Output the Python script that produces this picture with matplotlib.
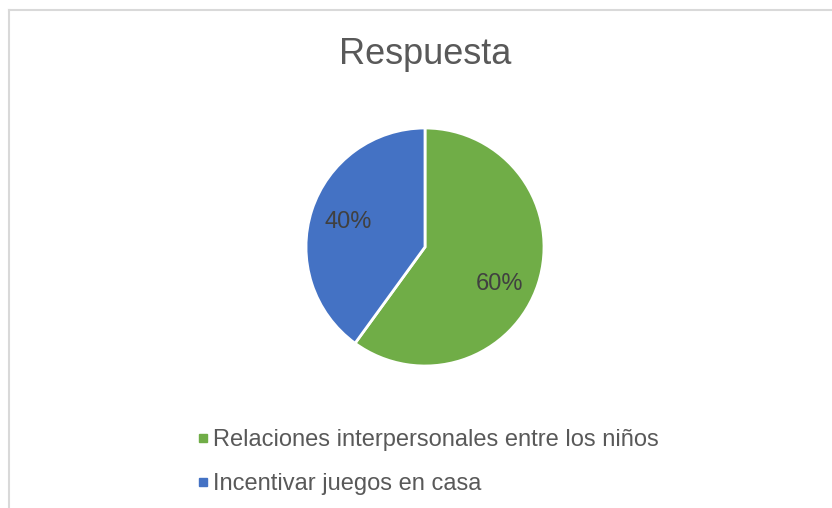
import matplotlib.pyplot as plt
from matplotlib.lines import Line2D

# Data
categories = ['Relaciones interpersonales entre los niños', 'Incentivar juegos en casa']
values = [60, 40]
colors = ['#70AD47', '#4472C4']
title = 'Respuesta'

plt.rcParams['font.family'] = ['Liberation Sans', 'DejaVu Sans']

W, H = 832, 508
fig = plt.figure(figsize=(W / 100, H / 100), dpi=100)

# chart frame (only top and left edges are visible in the crop)
fig.add_artist(Line2D([8.5 / W, 8.5 / W], [0, 1 - 9.5 / H], color='#D9D9D9', lw=1.5))
fig.add_artist(Line2D([8.5 / W, 1], [1 - 9.5 / H, 1 - 9.5 / H], color='#D9D9D9', lw=1.5))

# pie axes: center (425, 247) px, radius 119 px
cx, cy, r = 425, H - 247, 119
ax = fig.add_axes([(cx - r) / W, (cy - r) / H, 2 * r / W, 2 * r / H])
wedges, texts, autotexts = ax.pie(values, colors=colors, startangle=90, counterclock=False,
                                  autopct='%1.0f%%', pctdistance=0.68,
                                  wedgeprops=dict(edgecolor='white', linewidth=2))
for t in autotexts:
    t.set_fontsize(17)
    t.set_color('#404040')
# Excel puts the big slice's label a bit lower
x0, y0 = autotexts[0].get_position()
autotexts[0].set_position((x0 - 0.02, y0 - 0.1))
ax.set_xlim(-1, 1)
ax.set_ylim(-1, 1)
ax.set_aspect('equal')
ax.axis('off')

fig.text(cx / W, 1 - 55 / H, title, ha='center', va='center', fontsize=26, color='#595959')

handles = [Line2D([], [], marker='s', linestyle='none', markersize=5.5,
                  markerfacecolor=c, markeredgecolor=c) for c in colors]
fig.legend(handles, categories, loc='upper left', bbox_to_anchor=(196 / W, 1 - 429 / H),
           frameon=False, borderpad=0, borderaxespad=0, fontsize=17, labelcolor='#595959',
           handlelength=0.6, handletextpad=0.12, labelspacing=0.95)

fig.savefig('out.png', dpi=100, facecolor='white')
